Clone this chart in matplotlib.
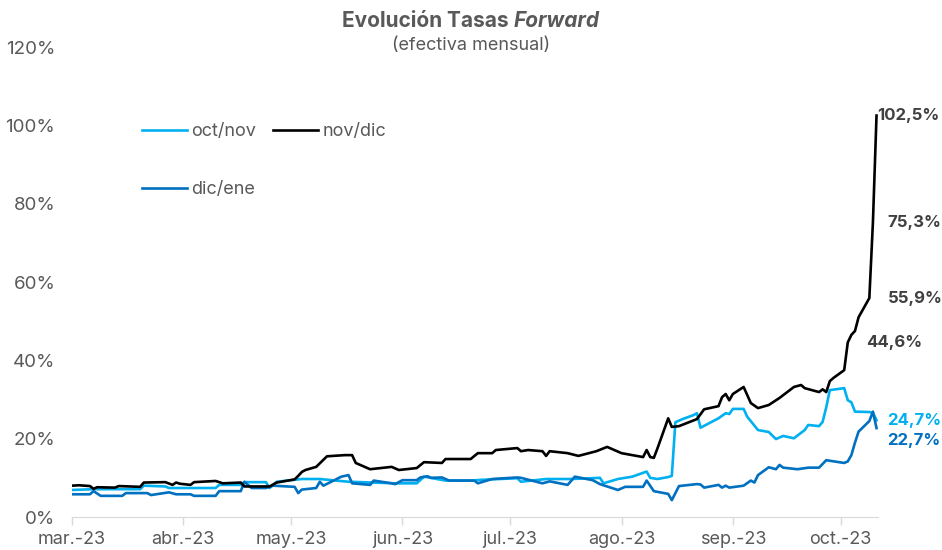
import pandas as pd
import matplotlib
matplotlib.use("Agg")
import matplotlib.pyplot as plt


# ---------------------------
# DATA
# ---------------------------
nov_dic_dates = [
    "2023-03-01", "2023-03-03", "2023-03-06", "2023-03-07", "2023-03-08", "2023-03-13",
    "2023-03-14", "2023-03-20", "2023-03-21", "2023-03-27", "2023-03-29", "2023-03-30",
    "2023-03-31", "2023-04-03", "2023-04-04", "2023-04-10", "2023-04-12", "2023-04-17",
    "2023-04-18", "2023-04-25", "2023-04-27", "2023-05-02", "2023-05-03", "2023-05-04",
    "2023-05-05", "2023-05-08", "2023-05-11", "2023-05-16", "2023-05-18", "2023-05-19",
    "2023-05-23", "2023-05-29", "2023-05-31", "2023-06-05", "2023-06-07", "2023-06-12",
    "2023-06-13", "2023-06-20", "2023-06-22", "2023-06-26", "2023-06-27", "2023-07-03",
    "2023-07-04", "2023-07-06", "2023-07-10", "2023-07-11", "2023-07-12", "2023-07-17",
    "2023-07-20", "2023-07-25", "2023-07-28", "2023-08-01", "2023-08-07", "2023-08-08",
    "2023-08-09", "2023-08-10", "2023-08-11", "2023-08-14", "2023-08-15", "2023-08-17",
    "2023-08-22", "2023-08-24", "2023-08-28", "2023-08-29", "2023-08-30", "2023-08-31",
    "2023-09-01", "2023-09-04", "2023-09-06", "2023-09-08", "2023-09-11", "2023-09-14",
    "2023-09-18", "2023-09-20", "2023-09-21", "2023-09-25", "2023-09-26", "2023-09-27",
    "2023-09-28", "2023-09-29", "2023-10-02", "2023-10-03", "2023-10-04", "2023-10-05",
    "2023-10-06", "2023-10-09", "2023-10-10", "2023-10-11",
]
nov_dic = [
    8.0, 8.1, 7.9, 7.2, 7.6, 7.5,
    7.9, 7.7, 8.8, 8.9, 8.2, 8.8,
    8.5, 8.2, 8.9, 9.2, 8.6, 8.8,
    7.8, 7.8, 8.8, 9.6, 10.5, 11.5,
    12.0, 12.8, 15.5, 15.8, 15.8, 13.8,
    12.2, 12.8, 12.0, 12.5, 14.0, 13.8,
    14.8, 14.8, 16.3, 16.3, 17.1, 17.6,
    16.8, 17.1, 16.8, 15.6, 16.8, 16.3,
    15.6, 16.8, 17.9, 16.3, 15.3, 17.1,
    15.3, 15.1, 17.5, 25.2, 23.0, 23.2,
    25.0, 27.5, 28.3, 30.6, 31.4, 29.8,
    31.4, 33.2, 29.1, 27.8, 28.6, 30.4,
    33.2, 33.7, 32.9, 31.9, 32.6, 31.9,
    34.7, 35.5, 37.5, 44.6, 46.5, 47.5,
    51.0, 55.9, 75.3, 102.5,
]

oct_nov_dates = [
    "2023-03-01", "2023-03-07", "2023-03-20", "2023-03-21", "2023-03-27", "2023-03-28",
    "2023-04-10", "2023-04-11", "2023-04-17", "2023-04-18", "2023-04-24", "2023-04-25",
    "2023-04-27", "2023-05-04", "2023-05-09", "2023-05-17", "2023-05-30", "2023-06-05",
    "2023-06-07", "2023-06-13", "2023-06-20", "2023-06-23", "2023-07-03", "2023-07-04",
    "2023-07-11", "2023-07-18", "2023-07-26", "2023-07-27", "2023-07-31", "2023-08-04",
    "2023-08-08", "2023-08-09", "2023-08-11", "2023-08-14", "2023-08-15", "2023-08-16",
    "2023-08-18", "2023-08-21", "2023-08-22", "2023-08-23", "2023-08-28", "2023-08-30",
    "2023-08-31", "2023-09-01", "2023-09-04", "2023-09-05", "2023-09-08", "2023-09-11",
    "2023-09-13", "2023-09-15", "2023-09-18", "2023-09-21", "2023-09-22", "2023-09-25",
    "2023-09-26", "2023-09-27", "2023-09-28", "2023-10-02", "2023-10-03", "2023-10-04",
    "2023-10-05", "2023-10-09", "2023-10-10", "2023-10-11",
]
oct_nov = [
    6.9, 7.1, 7.1, 8.0, 7.8, 7.4,
    7.4, 8.2, 8.2, 8.9, 8.9, 7.4,
    9.0, 9.7, 9.7, 9.0, 8.6, 8.6,
    10.3, 9.3, 9.3, 9.5, 9.9, 9.0,
    9.7, 9.7, 10.0, 8.6, 9.7, 10.3,
    11.6, 10.0, 9.7, 10.2, 10.5, 24.2,
    25.0, 26.0, 26.5, 22.8, 25.2, 26.5,
    26.3, 27.6, 27.6, 25.6, 22.2, 21.7,
    19.9, 20.7, 20.1, 22.2, 23.5, 23.2,
    24.3, 28.0, 32.4, 32.9, 29.8, 29.3,
    26.9, 26.8, 26.6, 24.7,
]

dic_ene_dates = [
    "2023-03-01", "2023-03-06", "2023-03-07", "2023-03-09", "2023-03-15", "2023-03-16",
    "2023-03-22", "2023-03-23", "2023-03-28", "2023-03-30", "2023-04-03", "2023-04-04",
    "2023-04-10", "2023-04-11", "2023-04-17", "2023-04-18", "2023-04-20", "2023-04-24",
    "2023-04-26", "2023-05-02", "2023-05-03", "2023-05-04", "2023-05-08", "2023-05-09",
    "2023-05-10", "2023-05-15", "2023-05-17", "2023-05-18", "2023-05-23", "2023-05-24",
    "2023-05-29", "2023-05-30", "2023-06-01", "2023-06-05", "2023-06-06", "2023-06-08",
    "2023-06-09", "2023-06-12", "2023-06-14", "2023-06-21", "2023-06-22", "2023-06-26",
    "2023-07-03", "2023-07-04", "2023-07-10", "2023-07-12", "2023-07-17", "2023-07-19",
    "2023-07-24", "2023-07-26", "2023-07-31", "2023-08-02", "2023-08-07", "2023-08-08",
    "2023-08-10", "2023-08-14", "2023-08-15", "2023-08-17", "2023-08-22", "2023-08-23",
    "2023-08-24", "2023-08-28", "2023-08-29", "2023-08-30", "2023-08-31", "2023-09-04",
    "2023-09-06", "2023-09-07", "2023-09-08", "2023-09-11", "2023-09-13", "2023-09-14",
    "2023-09-15", "2023-09-19", "2023-09-22", "2023-09-25", "2023-09-27", "2023-10-02",
    "2023-10-03", "2023-10-04", "2023-10-05", "2023-10-06", "2023-10-09", "2023-10-10",
    "2023-10-11",
]
dic_ene = [
    5.8, 5.8, 6.6, 5.4, 5.4, 6.1,
    6.1, 5.6, 6.3, 5.8, 5.8, 5.4,
    5.4, 6.6, 6.6, 9.0, 7.4, 7.4,
    8.0, 7.7, 6.1, 7.0, 7.4, 9.0,
    8.0, 10.3, 10.7, 8.6, 8.2, 9.3,
    8.6, 8.4, 9.4, 9.4, 10.1, 10.4,
    10.0, 10.1, 9.3, 9.3, 8.6, 9.7,
    10.1, 10.0, 8.6, 9.1, 8.2, 10.3,
    9.4, 8.4, 6.9, 7.7, 7.7, 9.3,
    6.6, 5.9, 4.3, 7.9, 8.4, 8.3,
    7.5, 8.2, 7.5, 8.0, 7.5, 8.0,
    9.3, 8.8, 10.7, 12.7, 12.2, 13.3,
    12.6, 12.2, 12.6, 12.6, 14.5, 13.8,
    14.2, 15.8, 19.0, 21.8, 24.5, 26.9,
    22.7,
]

month_ticks = ["2023-03-01", "2023-04-01", "2023-05-01", "2023-06-01",
               "2023-07-01", "2023-08-01", "2023-09-01", "2023-10-01"]
month_labels = ["mar.-23", "abr.-23", "may.-23", "jun.-23",
                "jul.-23", "ago.-23", "sep.-23", "oct.-23"]
y_ticks = [0, 20, 40, 60, 80, 100, 120]

# end labels: (text, value, colour, x offset px, y offset px)
end_labels = [
    ("102,5%", 102.5, "#404040", 1, 0),
    ("75,3%", 75.3, "#404040", 11, 0),
    ("55,9%", 55.9, "#404040", 11, 0),
    ("44,6%", 44.6, "#404040", -10, 0),
    ("24,7%", 24.7, "#00B0F0", 11, 0),
    ("22,7%", 22.7, "#0070C0", 11, -12),
]

LIGHT_BLUE = "#00B0F0"
DARK_BLUE = "#0070C0"
GREY = "#595959"

plt.rcParams["font.family"] = ["Inter", "DejaVu Sans"]


# ---------------------------
# PLOT
# ---------------------------
fig = plt.figure(figsize=(9.42, 5.5), dpi=100)
ax = fig.add_axes([0.0764, 0.06, 0.856, 0.8545])

l1, = ax.plot(pd.to_datetime(oct_nov_dates), oct_nov, color=LIGHT_BLUE, lw=1.9, label="oct/nov")
l3, = ax.plot(pd.to_datetime(dic_ene_dates), dic_ene, color=DARK_BLUE, lw=1.9, label="dic/ene")
l2, = ax.plot(pd.to_datetime(nov_dic_dates), nov_dic, color="black", lw=1.9, label="nov/dic")

ax.set_xlim(pd.Timestamp("2023-03-01"), pd.Timestamp("2023-10-11 12:00"))
ax.set_ylim(0, 120)

ax.set_xticks(pd.to_datetime(month_ticks))
ax.set_xticklabels(month_labels)
ax.set_yticks(y_ticks)
ax.set_yticklabels([f"{v}%" for v in y_ticks])

for s in ["top", "right", "left"]:
    ax.spines[s].set_visible(False)
ax.spines["bottom"].set_color("#D9D9D9")
ax.tick_params(axis="x", colors="#D9D9D9", length=6, width=1, labelcolor=GREY,
               labelsize=13, pad=4)
ax.tick_params(axis="y", length=0, labelcolor=GREY, labelsize=13.5, pad=12)

last_date = pd.Timestamp(nov_dic_dates[-1])
for txt, val, col, dx, dy in end_labels:
    ax.annotate(txt, xy=(last_date, val), xytext=(dx, dy), textcoords="offset pixels",
                ha="left", va="center", fontsize=12, fontweight="bold", color=col,
                annotation_clip=False)

leg = ax.legend(handles=[l1, l3, l2], ncol=2, frameon=False, fontsize=13,
                loc="upper left", bbox_to_anchor=(0.133, 0.805),
                bbox_transform=fig.transFigure, labelspacing=2.25,
                handlelength=2.5, columnspacing=0.95, handletextpad=0.25)
for t in leg.get_texts():
    t.set_color(GREY)

# title: plain bold part + bold italic "Forward", centred together
renderer = fig.canvas.get_renderer()
t1 = fig.text(0, 0.962, "Evolución Tasas ", ha="left", va="center",
              fontsize=15, fontweight="bold", color=GREY)
t2 = fig.text(0, 0.962, "Forward", ha="left", va="center",
              fontsize=15, fontweight="bold", fontstyle="italic", color=GREY)
w1 = t1.get_window_extent(renderer).width / fig.bbox.width
w2 = t2.get_window_extent(renderer).width / fig.bbox.width
x0 = 0.5 - (w1 + w2) / 2
t1.set_x(x0)
t2.set_x(x0 + w1)
fig.text(0.5, 0.918, "(efectiva mensual)", ha="center", va="center",
         fontsize=13, color=GREY)

fig.savefig("out.png", dpi=100)
plt.close(fig)
